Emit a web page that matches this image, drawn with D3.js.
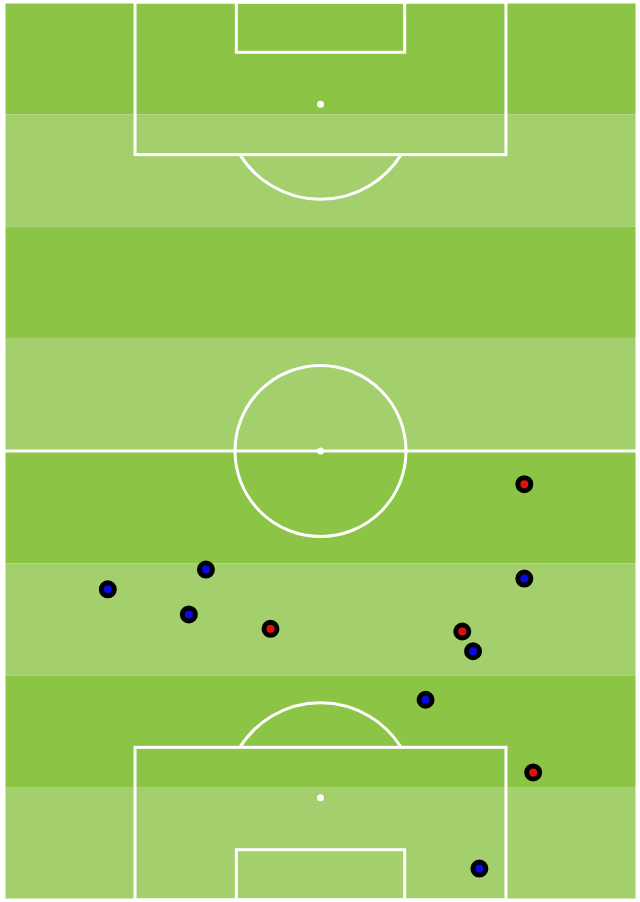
<!DOCTYPE html>
<html>
<head>
<meta charset="utf-8">
<script src="https://cdn.jsdelivr.net/npm/d3@7"></script>
<style>
  body { margin: 0; background: #ffffff; }
  svg { display: block; }
</style>
</head>
<body>
<div id="pitch"></div>
<script>
// Event locations in pitch units (0-100 across, 0-100 along the pitch)
const eventX = [82.2, 82.2, 31.9, 16.4, 29.2, 42.1, 72.4, 74.1, 66.6, 83.6, 75.1];
const eventY = [53.7, 64.2, 63.2, 65.4, 68.2, 69.8, 70.1, 72.3, 77.7, 85.8, 96.5];
const eventTeam = ["away", "home", "home", "home", "home", "away", "away", "home", "home", "away", "home"];

const stripes = [0, 12.5, 25, 37.5, 50, 62.5, 75, 87.5];

let width = 640, height = 902;
let margin = {top: 2, right: 3, bottom: 2, left: 4};

let svg = d3.select("#pitch").append("svg")
    .attr("width", width)
    .attr("height", height);

let x = d3.scaleLinear().domain([0, 100]).range([margin.left, width - margin.right]);
let y = d3.scaleLinear().domain([0, 100]).range([margin.top, height - margin.bottom]);

let colour = d3.scaleOrdinal().domain(["home", "away"]).range(["#0a0ae6", "#e01010"]);

// grass stripes
svg.selectAll(".stripe")
    .data(stripes)
    .enter().append("rect")
    .attr("class", "stripe")
    .attr("x", x(0))
    .attr("y", d => y(d))
    .attr("width", x(100) - x(0))
    .attr("height", d => y(d + 12.5) - y(d))
    .attr("fill", (d, i) => i % 2 === 0 ? "#8cc545" : "#a3cf6d");

let lines = svg.append("g")
    .attr("fill", "none")
    .attr("stroke", "#ffffff")
    .attr("stroke-width", 3);

// outline + halfway line
lines.append("rect")
    .attr("x", x(0)).attr("y", y(0))
    .attr("width", x(100) - x(0)).attr("height", y(100) - y(0));

lines.append("line")
    .attr("x1", x(0)).attr("x2", x(100))
    .attr("y1", y(50)).attr("y2", y(50));

lines.append("circle")
    .attr("cx", x(50)).attr("cy", y(50))
    .attr("r", 85.5);

// penalty boxes, goal areas and arcs (top and bottom end)
[0, 100].forEach(function (end) {
    let dir = end === 0 ? 1 : -1;
    let boxY = end + dir * 17;
    let goalY = end + dir * 5.6;
    let spotY = end + dir * 11.4;

    lines.append("rect")
        .attr("x", x(20.7))
        .attr("y", Math.min(y(end), y(boxY)))
        .attr("width", x(79.3) - x(20.7))
        .attr("height", Math.abs(y(boxY) - y(end)));

    lines.append("rect")
        .attr("x", x(36.7))
        .attr("y", Math.min(y(end), y(goalY)))
        .attr("width", x(63.3) - x(36.7))
        .attr("height", Math.abs(y(goalY) - y(end)));

    // arc outside the box
    let r = 95;
    let dy = Math.abs(y(boxY) - y(spotY));
    let a = Math.acos(dy / r);
    let arc = d3.arc()
        .innerRadius(r).outerRadius(r)
        .startAngle(end === 0 ? Math.PI - a : -a)
        .endAngle(end === 0 ? Math.PI + a : a);

    lines.append("path")
        .attr("transform", "translate(" + x(50) + "," + y(spotY) + ")")
        .attr("d", arc());

    svg.append("circle")
        .attr("cx", x(50)).attr("cy", y(spotY))
        .attr("r", 3.5)
        .attr("fill", "#ffffff");
});

svg.append("circle")
    .attr("cx", x(50)).attr("cy", y(50))
    .attr("r", 3.5)
    .attr("fill", "#ffffff");

// events
let events = eventX.map((d, i) => ({x: d, y: eventY[i], team: eventTeam[i]}));

svg.selectAll(".event")
    .data(events)
    .enter().append("circle")
    .attr("class", "event")
    .attr("cx", d => x(d.x))
    .attr("cy", d => y(d.y))
    .attr("r", 6.5)
    .attr("fill", d => colour(d.team))
    .attr("stroke", "#000000")
    .attr("stroke-width", 5);
</script>
</body>
</html>
